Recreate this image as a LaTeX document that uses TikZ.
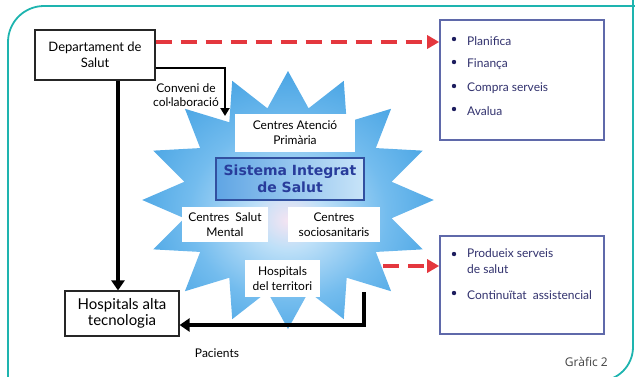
\documentclass[tikz,border=0pt]{standalone}
\usepackage{fontspec}
\setmainfont{Lato}
\newfontfamily\sisfont{DejaVu Sans}
\newfontfamily\grfont{Open Sans}
\usetikzlibrary{arrows.meta,shapes.geometric}
\definecolor{framecol}{RGB}{30,180,175}
\definecolor{redarr}{RGB}{228,55,62}
\definecolor{navytext}{RGB}{50,50,110}
\definecolor{navydot}{RGB}{30,30,95}
\definecolor{listborder}{RGB}{95,105,170}
\definecolor{sisborder}{RGB}{50,80,160}
\definecolor{sistext}{RGB}{40,60,155}
\definecolor{sisL}{RGB}{95,165,228}
\definecolor{sisR}{RGB}{200,228,248}
\definecolor{starc0}{RGB}{245,228,242}
\definecolor{starc1}{RGB}{190,224,248}
\definecolor{starc2}{RGB}{115,188,238}
\definecolor{starc3}{RGB}{58,156,224}
\definecolor{starc4}{RGB}{35,144,216}
\pgfdeclareradialshading{starshade}{\pgfpoint{0bp}{-4bp}}{%
  color(0bp)=(starc0); color(6bp)=(starc1); color(17bp)=(starc2);
  color(31bp)=(starc3); color(50bp)=(starc4)}
\tikzset{
  outerframe/.style={draw=framecol, line width=1.8pt, rounded corners=36pt},
  plainbox/.style={draw=black!85, line width=1.2pt, fill=white, align=center, inner sep=2pt},
  innerbox/.style={fill=white, align=center, inner sep=1pt, font=\fontsize{12}{15}\selectfont},
  listbox/.style={draw=listborder, line width=1.6pt, fill=white, inner sep=0pt},
  itemtext/.style={anchor=west, text=navytext, inner sep=0pt, font=\fontsize{12}{16}\selectfont, align=left},
  thickarrow/.style={draw=black, line width=4pt, -{Triangle[length=10pt,width=13pt]}},
  convarrow/.style={draw=black, line width=2.2pt, -{Triangle[length=8pt,width=9pt]}},
  reddash/.style={draw=redarr, line width=4pt, dash pattern=on 16pt off 9pt, -{Triangle[length=12pt,width=13pt]}}
}
\begin{document}
\begin{tikzpicture}[x=1pt,y=-1pt]
\useasboundingbox (0,0) rectangle (635,376);
\begin{scope}
\clip (0,0) rectangle (635,376);
\draw[outerframe] (8,420) -- (8,6) -- (660,6);
\draw[outerframe, rounded corners=34pt] (633,-20) -- (633,381) -- (-20,381);
\end{scope}

\node[star, star points=16, star point ratio=1.38, minimum size=258pt, inner sep=0pt,
  xscale=1.13, shading=starshade, draw=none] (star) at (288,200) {};

\node[plainbox, minimum width=120pt, minimum height=50pt, font=\fontsize{13}{16.5}\selectfont] (dept) at (95,55) {Departament de\\Salut};
\node[plainbox, minimum width=114pt, minimum height=45pt, font=\fontsize{15}{16.5}\selectfont] (hosalta) at (122,313.5) {Hospitals alta\\tecnologia};
\node[listbox, minimum width=164pt, minimum height=120pt] (planbox) at (522,80) {};
\node[listbox, minimum width=164pt, minimum height=98pt] (prodbox) at (522,285) {};

\node[innerbox, minimum width=120pt, minimum height=38pt] (cap) at (295,133) {Centres Atenció\\Primària};
\node[draw=sisborder, line width=1.2pt, left color=sisL, right color=sisR, minimum width=148pt, minimum height=42pt,
  align=center, inner sep=1pt, text=sistext, font=\sisfont\bfseries\fontsize{14}{17.5}\selectfont] (sis) at (290,179) {Sistema Integrat\\de Salut};
\node[innerbox, minimum width=86pt, minimum height=35pt] (csm) at (225,224.5) {Centres\ \ Salut\\Mental};
\node[innerbox, minimum width=92pt, minimum height=35pt] (css) at (334,224.5) {Centres\\sociosanitaris};
\node[innerbox, minimum width=75pt, minimum height=37pt] (hterr) at (282.5,278.5) {Hospitals\\del territori};

\foreach \txt/\yy [count=\i] in {Planifica/41, Finança/64, Compra serveis/88, Avalua/111}{
  \node[itemtext] (it\i) at (467,\yy) {\txt};
  \fill[navydot] ([xshift=-13pt,yshift=2pt]it\i.west) circle (2.2pt);
}
\node[itemtext, anchor=north west] (prod) at (467,248) {Produeix serveis\\de salut};
\fill[navydot] ([xshift=-13pt,yshift=-6pt]prod.north west) circle (2.2pt);
\node[itemtext] (cont) at (467,295) {Continuïtat\ \ assistencial};
\fill[navydot] ([xshift=-13pt,yshift=2pt]cont.west) circle (2.2pt);

\coordinate (redA) at ([yshift=13pt]dept.east);
\coordinate (convA) at ([yshift=-13pt]dept.east);
\coordinate (convB) at (225,116);
\coordinate (redB) at (383,266);
\coordinate (pacA) at (364,292);
\coordinate (pacB) at ([yshift=-11.5pt]hosalta.east);

\draw[reddash] (redA) -- (redA -| planbox.west);
\draw[reddash] (redB) -- (redB -| prodbox.west);
\draw[convarrow] (convA) -| (convB);
\draw[thickarrow] (dept.south -| 118,0) -- (118,0 |- hosalta.north);
\draw[thickarrow] (pacA) |- (pacB);

\node[align=center, inner sep=0pt, font=\fontsize{12}{14}\selectfont] (convlbl) at (186,95) {Conveni de\\col·laboració};
\node[inner sep=0pt, font=\fontsize{12}{14}\selectfont] (paclbl) at (217,353) {Pacients};
\node[anchor=east, inner sep=0pt, text=black!75, font=\grfont\fontsize{12}{14}\selectfont] (graf) at (608,362) {Gràfic 2};
\end{tikzpicture}
\end{document}
